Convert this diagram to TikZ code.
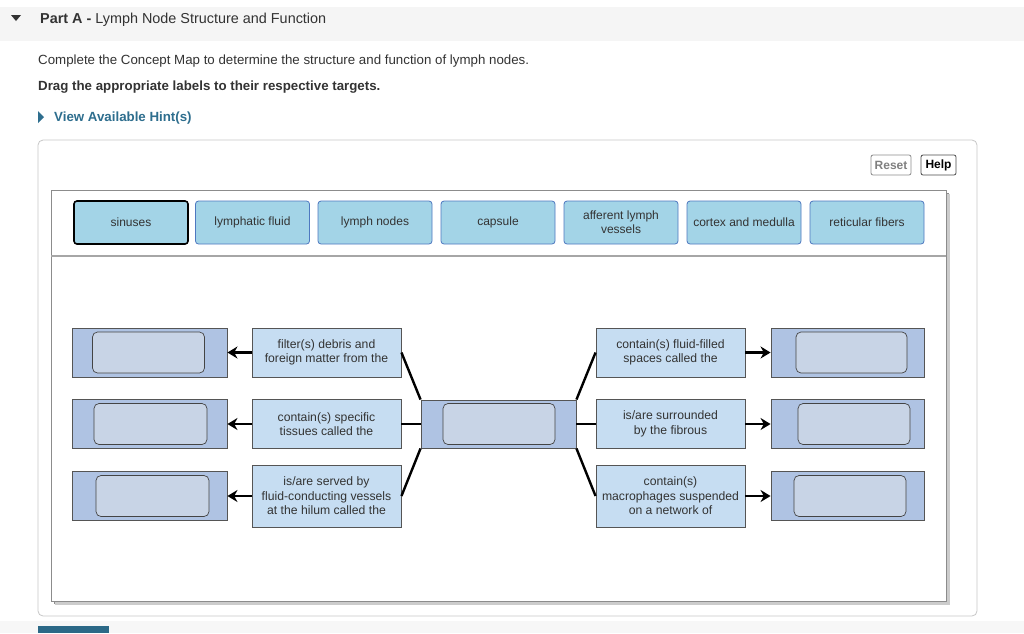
\documentclass[tikz,border=0pt]{standalone}
\usepackage{fontspec}
\setmainfont{Liberation Sans}
\usetikzlibrary{arrows.meta}
\definecolor{txt}{HTML}{333333}
\definecolor{tilef}{HTML}{A3D4E7}
\definecolor{tileb}{HTML}{4E78C0}
\definecolor{tgtf}{HTML}{AFC3E3}
\definecolor{tgtin}{HTML}{C8D4E6}
\definecolor{phrf}{HTML}{C6DDF2}
\definecolor{boxb}{HTML}{555555}
\definecolor{hint}{HTML}{2E6E8E}
\tikzset{
  tile/.style={draw=tileb, fill=tilef, rounded corners=3pt, minimum width=114, minimum height=43, font=\fontsize{12}{14}\selectfont, text=txt, align=center, inner sep=0pt, line width=0.8pt},
  tgtbox/.style={draw=boxb, fill=tgtf, minimum height=49, inner sep=0pt, line width=0.9pt},
  tgtinner/.style={draw=boxb!80!black, fill=tgtin, rounded corners=5pt, minimum height=41, inner sep=0pt, line width=0.7pt},
  phr/.style={draw=boxb, fill=phrf, minimum width=149, inner sep=0pt, align=center, font=\fontsize{12.2}{14.5}\selectfont, text=txt, line width=0.9pt},
  conn/.style={line width=2.4pt, black},
  arr/.style={line width=2.6pt, black, -{Stealth[length=10pt,width=12pt]}},
  btn/.style={rounded corners=2pt, inner sep=0pt, font=\bfseries\fontsize{12}{14}\selectfont, line width=0.8pt}
}
\begin{document}
\begin{tikzpicture}[x=1pt,y=-1pt]
\useasboundingbox (0,0) rectangle (1024,633);
\fill[white] (0,0) rectangle (1024,633);
% header band
\fill[black!4] (0,7) rectangle (1024,41);
\fill[txt] (11,15) -- (21,15) -- (16,21) -- cycle;
\node[anchor=west, text=txt, font=\fontsize{14.4}{16}\selectfont, inner sep=0pt] (title) at (40,19.5) {\textbf{Part A -} Lymph Node Structure and Function};
\node[anchor=west, text=txt, font=\fontsize{13.3}{15}\selectfont, inner sep=0pt] (instr) at (38,61) {Complete the Concept Map to determine the structure and function of lymph nodes.};
\node[anchor=west, text=txt, font=\bfseries\fontsize{13.3}{15}\selectfont, inner sep=0pt] (drag) at (38,87) {Drag the appropriate labels to their respective targets.};
\fill[hint] (38,111) -- (38,123) -- (44,117) -- cycle;
\node[anchor=west, text=hint, font=\bfseries\fontsize{13.3}{15}\selectfont, inner sep=0pt] (hints) at (54,118) {View Available Hint(s)};
% outer panel
\draw[black!22, rounded corners=5pt, line width=0.8pt] (38,140) rectangle (977,616);
% buttons
\node[btn, draw=black!45, text=black!50, minimum width=40, minimum height=20] (reset) at (891,165) {Reset};
\node[btn, draw=black!70, text=black, minimum width=35, minimum height=20] (help) at (938.5,165) {Help};
% inner panel with shadow
\fill[black!45] (54,193) rectangle (949,604);
\fill[black!20] (55,194) rectangle (950,605);
\filldraw[fill=white, draw=black!45, line width=0.8pt] (51,190) rectangle (946,601);
\draw[black!35, line width=1.5pt] (51,256) -- (946,256);
% label tiles
\node[tile, draw=black, line width=1.6pt] (t1) at (131,222.5) {sinuses};
\node[tile] (t2) at (252.5,222.5) {lymphatic fluid};
\node[tile] (t3) at (375,222.5) {lymph nodes};
\node[tile] (t4) at (498,222.5) {capsule};
\node[tile] (t5) at (621,222.5) {afferent lymph\\vessels};
\node[tile] (t6) at (744,222.5) {cortex and medulla};
\node[tile] (t7) at (867,222.5) {reticular fibers};
% left targets
\node[tgtbox, minimum width=155] (L1) at (149.5,352.5) {};
\node[tgtinner, minimum width=112] (L1i) at (148.5,352.5) {};
\node[tgtbox, minimum width=155] (L2) at (149.5,424) {};
\node[tgtinner, minimum width=113] (L2i) at (150.5,424) {};
\node[tgtbox, minimum width=155] (L3) at (149.5,496) {};
\node[tgtinner, minimum width=113] (L3i) at (152.5,496) {};
% left phrases
\node[phr, minimum height=49] (P1) at (326.5,352.5) {filter(s) debris and\\foreign matter from the};
\node[phr, minimum height=49] (P2) at (326.5,424) {contain(s) specific\\tissues called the};
\node[phr, minimum height=62] (P3) at (326.5,496) {is/are served by\\fluid-conducting vessels\\at the hilum called the};
% center
\node[tgtbox, minimum width=155, minimum height=48] (C) at (498.5,424) {};
\node[tgtinner, minimum width=112] (Ci) at (499,424) {};
% right phrases
\node[phr, minimum height=49] (Q1) at (670.5,352.5) {contain(s) fluid-filled\\spaces called the};
\node[phr, minimum height=49] (Q2) at (670.5,424) {is/are surrounded\\by the fibrous};
\node[phr, minimum height=62] (Q3) at (670.5,496) {contain(s)\\macrophages suspended\\on a network of};
% right targets
\node[tgtbox, minimum width=153] (R1) at (847.5,352.5) {};
\node[tgtinner, minimum width=111] (R1i) at (851.5,352.5) {};
\node[tgtbox, minimum width=153] (R2) at (847.5,424) {};
\node[tgtinner, minimum width=112] (R2i) at (854,424) {};
\node[tgtbox, minimum width=153] (R3) at (847.5,496) {};
\node[tgtinner, minimum width=112] (R3i) at (850,496) {};
% connectors
\draw[conn] (C.north west) -- (P1.east);
\draw[conn] (C.west) -- (P2.east);
\draw[conn] (C.south west) -- (P3.east);
\draw[conn] (C.north east) -- (Q1.west);
\draw[conn] (C.east) -- (Q2.west);
\draw[conn] (C.south east) -- (Q3.west);
\draw[arr] (P1.west) -- (L1.east);
\draw[arr] (P2.west) -- (L2.east);
\draw[arr] (P3.west) -- (L3.east);
\draw[arr] (Q1.east) -- (R1.west);
\draw[arr] (Q2.east) -- (R2.west);
\draw[arr] (Q3.east) -- (R3.west);
% bottom
\fill[black!3] (0,621) rectangle (1024,633);
\fill[hint!95!black] (38,626) rectangle (109,633);
\end{tikzpicture}
\end{document}
